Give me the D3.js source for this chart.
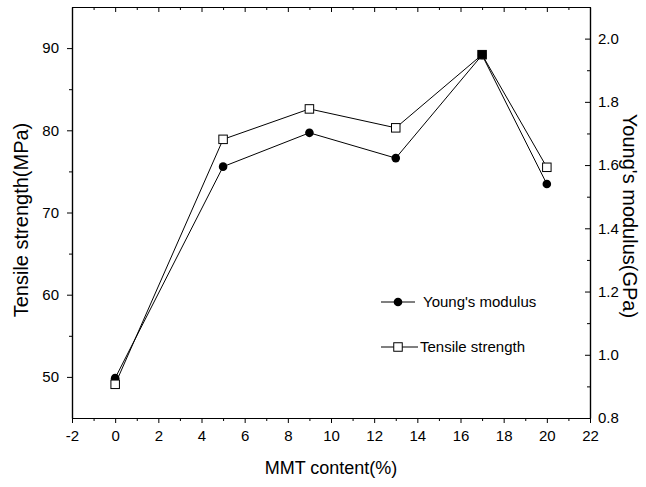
<!DOCTYPE html>
<html>
<head>
<meta charset="utf-8">
<script src="https://cdn.jsdelivr.net/npm/d3@7"></script>
<style>
  html, body { margin: 0; padding: 0; background: #fff; }
  svg { display: block; font-family: "Liberation Sans", Arial, sans-serif; }
</style>
</head>
<body>
<svg id="chart" width="646" height="487"></svg>
<script>
// MMT loading (%) and the two measured properties
const mmtContent = [0, 5, 9, 13, 17, 20];
const tensileStrength = [49.1, 78.9, 82.6, 80.3, 89.2, 75.5];   // MPa
const youngsModulus = [0.926, 1.595, 1.702, 1.622, 1.948, 1.54]; // GPa

const xTicks = [-2, 0, 2, 4, 6, 8, 10, 12, 14, 16, 18, 20, 22];
const leftTicks = [50, 60, 70, 80, 90];
const rightTicks = [0.8, 1.0, 1.2, 1.4, 1.6, 1.8, 2.0];

const svg = d3.select("#chart");
const m = { left: 72, right: 590, top: 7, bottom: 418 };

const x = d3.scaleLinear().domain([-2, 22]).range([m.left, m.right]);
const yL = d3.scaleLinear().domain([45, 95]).range([m.bottom, m.top]);
const yR = d3.scaleLinear().domain([0.8, 2.1]).range([m.bottom, m.top]);

const tickFont = 15;
const plain = d => String(d);

// bottom axis: major ticks outward with labels, minor ticks at odd values
svg.append("g").attr("transform", `translate(0,${m.bottom})`)
  .call(d3.axisBottom(x).tickValues(xTicks).tickSize(5).tickSizeOuter(0).tickPadding(7)
    .tickFormat(plain));
svg.append("g").attr("transform", `translate(0,${m.bottom})`)
  .call(d3.axisBottom(x).tickValues(d3.range(-1, 22, 2)).tickSize(3).tickSizeOuter(0).tickFormat(""));

// top axis: inward ticks, no labels
svg.append("g").attr("transform", `translate(0,${m.top})`)
  .call(d3.axisTop(x).tickValues(xTicks).tickSize(-5).tickSizeOuter(0).tickFormat(""));
svg.append("g").attr("transform", `translate(0,${m.top})`)
  .call(d3.axisTop(x).tickValues(d3.range(-1, 22, 2)).tickSize(-3).tickSizeOuter(0).tickFormat(""));

// left axis: tensile strength
svg.append("g").attr("transform", `translate(${m.left},0)`)
  .call(d3.axisLeft(yL).tickValues(leftTicks).tickSize(5).tickSizeOuter(0).tickPadding(8)
    .tickFormat(plain));
svg.append("g").attr("transform", `translate(${m.left},0)`)
  .call(d3.axisLeft(yL).tickValues([55, 65, 75, 85]).tickSize(3).tickSizeOuter(0).tickFormat(""));

// right axis: Young's modulus, ticks pointing inward
svg.append("g").attr("transform", `translate(${m.right},0)`)
  .call(d3.axisRight(yR).tickValues(rightTicks).tickSize(-5).tickSizeOuter(0).tickPadding(8)
    .tickFormat(d3.format(".1f")));
svg.append("g").attr("transform", `translate(${m.right},0)`)
  .call(d3.axisRight(yR).tickValues([0.9, 1.1, 1.3, 1.5, 1.7, 1.9]).tickSize(-3).tickSizeOuter(0).tickFormat(""));

svg.selectAll(".domain").attr("stroke", "#000").attr("stroke-width", 1.2);
svg.selectAll(".tick line").attr("stroke", "#000").attr("stroke-width", 1);
svg.selectAll(".tick text").attr("font-size", tickFont).attr("fill", "#000")
  .attr("font-family", "'Liberation Sans', Arial, sans-serif");

// axis titles
svg.append("text").attr("x", 331).attr("y", 474).attr("text-anchor", "middle")
  .attr("font-size", 18).text("MMT content(%)");
svg.append("text").attr("transform", "translate(28,220) rotate(-90)").attr("text-anchor", "middle")
  .attr("font-size", 20).text("Tensile strength(MPa)");
svg.append("text").attr("transform", "translate(623,216) rotate(90)").attr("text-anchor", "middle")
  .attr("font-size", 20).text("Young's modulus(GPa)");

// series lines
const lineT = d3.line().x((d, i) => x(mmtContent[i])).y(d => yL(d));
const lineY = d3.line().x((d, i) => x(mmtContent[i])).y(d => yR(d));

svg.append("path").datum(youngsModulus).attr("d", lineY)
  .attr("fill", "none").attr("stroke", "#000").attr("stroke-width", 1);
svg.append("path").datum(tensileStrength).attr("d", lineT)
  .attr("fill", "none").attr("stroke", "#000").attr("stroke-width", 1);

// markers
svg.selectAll(".ym").data(youngsModulus).enter().append("circle")
  .attr("cx", (d, i) => x(mmtContent[i])).attr("cy", d => yR(d)).attr("r", 4.3)
  .attr("fill", "#000");
const sq = 8.5;
svg.selectAll(".ts").data(tensileStrength).enter().append("rect")
  .attr("x", (d, i) => x(mmtContent[i]) - sq / 2).attr("y", d => yL(d) - sq / 2)
  .attr("width", sq).attr("height", sq)
  .attr("fill", "#fff").attr("stroke", "#000").attr("stroke-width", 1);
// at 17% the two markers coincide and the square is drawn filled
svg.selectAll(".ts2").data(tensileStrength).enter().filter((d, i) => mmtContent[i] === 17)
  .append("rect")
  .attr("x", x(17) - sq / 2).attr("y", d => yL(d) - sq / 2)
  .attr("width", sq).attr("height", sq).attr("fill", "#000");

// legend
const legendFont = 15;
const lg = svg.append("g");
lg.append("line").attr("x1", 381).attr("x2", 415).attr("y1", 302).attr("y2", 302)
  .attr("stroke", "#000").attr("stroke-width", 1);
lg.append("circle").attr("cx", 398).attr("cy", 302).attr("r", 4.3).attr("fill", "#000");
lg.append("text").attr("x", 423).attr("y", 307).attr("font-size", legendFont).text("Young's modulus");

lg.append("line").attr("x1", 381).attr("x2", 418).attr("y1", 347).attr("y2", 347)
  .attr("stroke", "#000").attr("stroke-width", 1);
lg.append("rect").attr("x", 398 - sq / 2).attr("y", 347 - sq / 2).attr("width", sq).attr("height", sq)
  .attr("fill", "#fff").attr("stroke", "#000").attr("stroke-width", 1);
lg.append("text").attr("x", 420).attr("y", 352).attr("font-size", legendFont).text("Tensile strength");
</script>
</body>
</html>
